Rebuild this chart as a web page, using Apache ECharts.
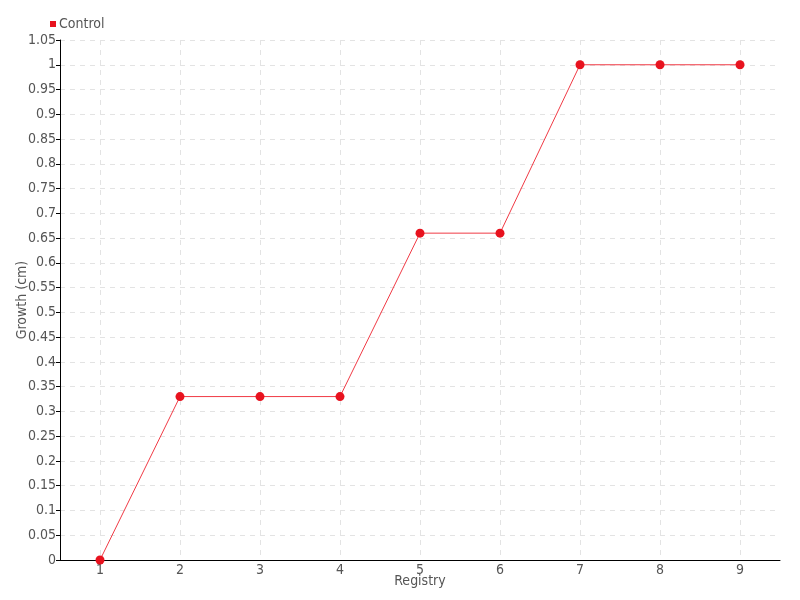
<!DOCTYPE html>
<html><head><meta charset="utf-8">
<script src="https://cdn.jsdelivr.net/npm/echarts@6/dist/echarts.min.js"></script>
<style>html,body{margin:0;padding:0;background:#fff}#c{width:800px;height:600px}</style>
</head><body><div id="c"></div>
<script>
const categories = ['1','2','3','4','5','6','7','8','9'];
const controlValues = [0, 0.33, 0.33, 0.33, 0.66, 0.66, 1, 1, 1];
const seriesName = 'Control';
const FONT = '"DejaVu Sans Condensed", "DejaVu Sans", sans-serif';
const chart = echarts.init(document.getElementById('c'));
chart.setOption({
  animation: false,
  textStyle: {fontFamily: FONT, color: '#555'},
  legend: {
    left: 45, top: 12, icon: 'rect', itemWidth: 6, itemHeight: 6, itemGap: 4,
    textStyle: {fontFamily: FONT, fontSize: 14, color: '#555', padding: [0,0,0,-2]},
    data: [seriesName]
  },
  grid: {left: 60, right: 20, top: 40, bottom: 40, containLabel: false, outerBoundsMode: 'none'},
  xAxis: {
    type: 'category', data: categories, boundaryGap: true,
    name: 'Registry', nameLocation: 'middle', nameGap: 14, nameMoveOverlap: false,
    nameTextStyle: {fontFamily: FONT, fontSize: 14, color: '#555'},
    axisLine: {lineStyle: {color: '#000', width: 1}},
    axisTick: {alignWithLabel: true, length: 5, lineStyle: {color: '#000'}},
    axisLabel: {fontFamily: FONT, fontSize: 14, color: '#555', margin: 3},
    splitLine: {show: true, alignWithLabel: true, lineStyle: {color: '#e3e3e3', type: [5, 5]}}
  },
  yAxis: {
    type: 'value', min: 0, max: 1.05, interval: 0.05,
    name: 'Growth (cm)', nameLocation: 'middle', nameGap: 31, nameMoveOverlap: false,
    nameTextStyle: {fontFamily: FONT, fontSize: 14, color: '#555'},
    axisLine: {show: true, lineStyle: {color: '#000', width: 1}},
    axisTick: {show: true, length: 4, lineStyle: {color: '#000'}},
    axisLabel: {fontFamily: FONT, fontSize: 14, color: '#555', margin: 4,
      formatter: v => String(parseFloat(v.toFixed(2)))},
    splitLine: {show: true, lineStyle: {color: '#e3e3e3', type: [5, 5]}}
  },
  series: [{
    name: seriesName, type: 'line', data: controlValues,
    color: '#ee1c25',
    symbol: 'circle', symbolSize: 9, showAllSymbol: true,
    lineStyle: {width: 1, color: '#f03a45'},
    itemStyle: {color: '#e8121e'}
  }]
});
</script></body></html>
